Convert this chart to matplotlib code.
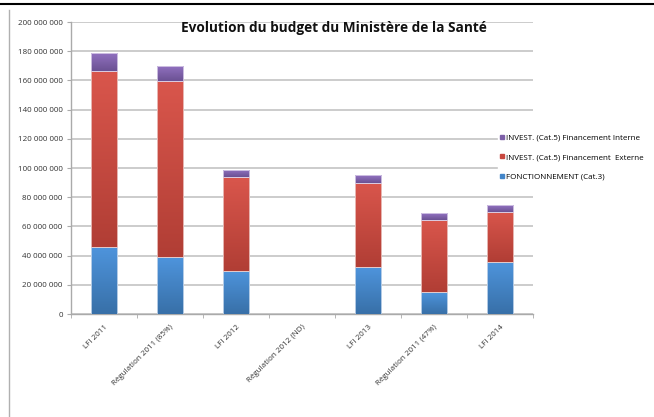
import matplotlib
matplotlib.use("Agg")
import matplotlib.pyplot as plt
import numpy as np
from matplotlib.lines import Line2D
from matplotlib.colors import LinearSegmentedColormap

categories = ["LFI 2011", "Régulation 2011 (85%)", "LFI 2012", "Régulation 2012 (ND)",
              "LFI 2013", "Régulation 2011 (47%)", "LFI 2014"]
fonctionnement = [45.9e6, 39.0e6, 29.5e6, 0, 32.0e6, 15.0e6, 35.6e6]
invest_externe = [120.5e6, 120.6e6, 64.3e6, 0, 58.0e6, 49.4e6, 34.4e6]
invest_interne = [12.4e6, 10.4e6, 5.2e6, 0, 5.0e6, 4.6e6, 4.6e6]
yticks = [0, 20e6, 40e6, 60e6, 80e6, 100e6, 120e6, 140e6, 160e6, 180e6, 200e6]

labels = ["FONCTIONNEMENT (Cat.3)", "INVEST. (Cat.5) Financement  Externe",
          "INVEST. (Cat.5) Financement Interne"]
colors = ["#4285c8", "#c8473e", "#7d5fa8"]
grad = [("#3870a8", "#4e94dc"), ("#b13e35", "#d9564c"), ("#6b5193", "#9373c2")]
edges = ["#c9d9ec", "#ecc9c6", "#d8cde8"]

plt.rcParams['font.family'] = ['Open Sans', 'DejaVu Sans']

fig = plt.figure(figsize=(6.54, 4.17), dpi=100)
ax = fig.add_axes([0.1086, 0.247, 0.7064, 0.7])

x = np.arange(len(categories))
w = 0.4
f = np.array(fonctionnement)
e = np.array(invest_externe)
i_ = np.array(invest_interne)
series = [(f, np.zeros_like(f)), (e, f), (i_, f + e)]

ax.set_xlim(-0.5, len(categories) - 0.5)
ax.set_ylim(0, 200e6)

gvals = np.linspace(0, 1, 64).reshape(-1, 1)
for k, (vals, bottoms) in enumerate(series):
    bars = ax.bar(x, vals, w, bottom=bottoms, color="none", edgecolor=edges[k], linewidth=0.6, zorder=4)
    cmap = LinearSegmentedColormap.from_list(f"g{k}", list(grad[k]))
    for rect in bars:
        h = rect.get_height()
        if h <= 0:
            continue
        x0 = rect.get_x()
        y0 = rect.get_y()
        im = ax.imshow(gvals, cmap=cmap, aspect="auto", origin="lower",
                       extent=[x0, x0 + rect.get_width(), y0, y0 + h], zorder=3, interpolation="bilinear")
        im.set_clip_path(rect)
ax.set_xlim(-0.5, len(categories) - 0.5)
ax.set_ylim(0, 200e6)
ax.set_aspect("auto")

ax.set_yticks(yticks)
ax.set_yticklabels([f"{int(v):,}".replace(",", " ") for v in yticks], fontsize=5.8, color="#333333")
ax.grid(axis="y", color="#c4c4c4", linewidth=1.2, zorder=0)
ax.set_axisbelow(True)

ax.set_xticks(x)
ax.set_xticklabels(categories, rotation=45, ha="right", rotation_mode="anchor", fontsize=5.8, color="#333333")
ax.tick_params(axis="x", length=0, pad=7)
ax.set_xticks(np.arange(-0.5, len(categories)), minor=True)
ax.tick_params(axis="x", which="minor", length=3, color="#aaaaaa", direction="out")
ax.tick_params(axis="y", length=3, color="#aaaaaa", pad=3)

for s in ["top", "right"]:
    ax.spines[s].set_visible(False)
for s in ["left", "bottom"]:
    ax.spines[s].set_color("#aaaaaa")
    ax.spines[s].set_linewidth(1.0)

fig.text(0.51, 0.933, "Evolution du budget du Ministère de la Santé", ha="center", va="center",
         fontsize=9.8, fontweight="bold", color="#111111")

handles = [Line2D([], [], marker="s", linestyle="none", markersize=3.5, color=colors[k]) for k in [2, 1, 0]]
leg = ax.legend(handles, [labels[k] for k in [2, 1, 0]], loc="upper left",
                bbox_to_anchor=(0.915, 0.637), frameon=True, fontsize=5.8, handletextpad=0.15,
                labelspacing=1.5, borderpad=0.2, handlelength=0.7)
leg.get_frame().set_facecolor("white")
leg.get_frame().set_edgecolor("white")
leg.get_frame().set_alpha(1)
leg.set_zorder(5)

# document border lines
fig.add_artist(Line2D([0, 1], [0.99, 0.99], color="black", linewidth=1.5, transform=fig.transFigure))
fig.add_artist(Line2D([0.013, 0.013], [0.0, 0.975], color="#b0b0b0", linewidth=1.0, transform=fig.transFigure))

fig.savefig("out.png", dpi=100)
